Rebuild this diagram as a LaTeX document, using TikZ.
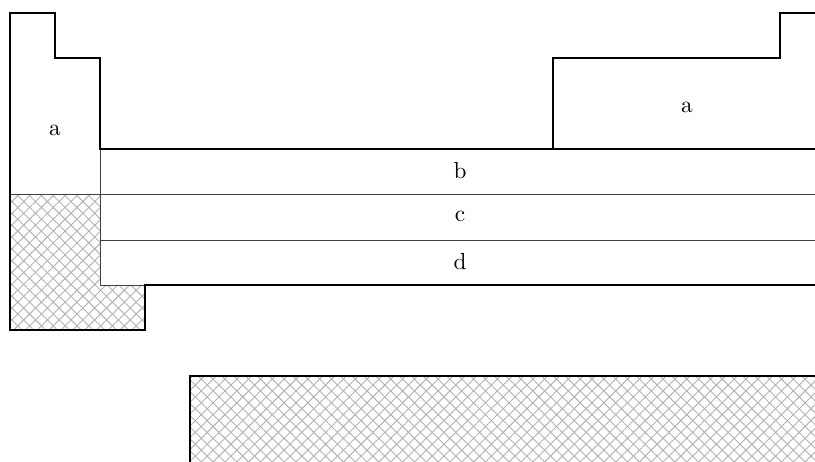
\documentclass[tikz,border=0pt]{standalone}
\usepackage{tikz}
\usetikzlibrary{patterns.meta}

\tikzset{
  outline/.style={thick, line join=miter},
  layer/.style={thin, draw=black!75},
  hatched/.style={pattern={Lines[angle=45, distance=3.6pt, line width=0.4pt]}, pattern color=black!30,
    preaction={pattern={Lines[angle=-45, distance=3.6pt, line width=0.4pt]}, pattern color=black!30}},
  lbl/.style={font=\normalsize, inner sep=0pt}
}

\begin{document}
\begin{tikzpicture}[x=0.43pt, y=-0.43pt]
\useasboundingbox (0,0) rectangle (815,462);

% Hatched parts
\fill[hatched] (10,194) -- (100,194) -- (100,285) -- (145,285) -- (145,330) -- (10,330) -- cycle;
\fill[hatched] (190,376) rectangle (830,470);

% Layers
\draw[layer] (10,194) -- (815,194);
\draw[layer] (100,240) -- (815,240);
\draw[layer] (100,149) -- (100,285) -- (145,285);

% Outline
\draw[outline] (815,13) -- (780,13) -- (780,58) -- (553,58) -- (553,149) -- (100,149)
  -- (100,58) -- (55,58) -- (55,13) -- (10,13) -- (10,330) -- (145,330) -- (145,285) -- (815,285);
\draw[outline] (553,149) -- (815,149);
\draw[outline] (815,376) -- (190,376) -- (190,462);

% Labels
\node[lbl] (aleft) at (55,130) {a};
\node[lbl] (aright) at (687,107) {a};
\node[lbl] (b) at (460,171) {b};
\node[lbl] (c) at (460,216) {c};
\node[lbl] (d) at (460,262) {d};
\end{tikzpicture}
\end{document}
